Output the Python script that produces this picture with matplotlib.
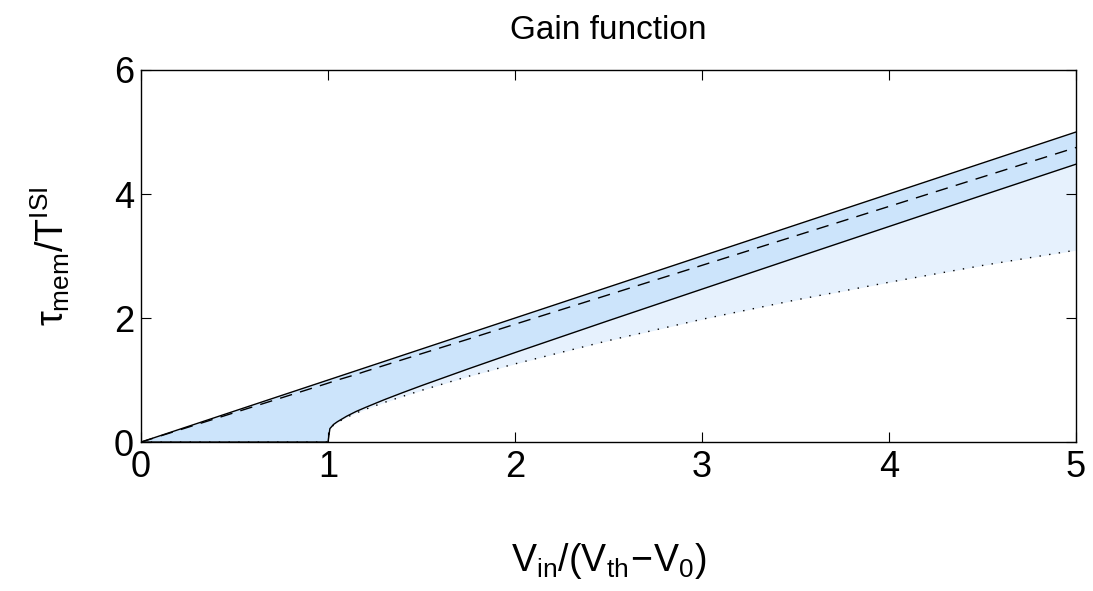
import matplotlib
matplotlib.use('Agg')
import matplotlib.pyplot as plt
import numpy as np

plt.rcParams['font.family'] = ['Liberation Sans', 'DejaVu Sans']
plt.rcParams['mathtext.fontset'] = 'custom'
plt.rcParams['mathtext.rm'] = 'Liberation Sans'
plt.rcParams['mathtext.it'] = 'Liberation Sans'

# input drive V_in/(V_th - V_0)
v_in = [0.0, 0.5, 0.99, 1.0, 1.01, 1.03, 1.05, 1.1, 1.15, 1.2, 1.3, 1.4, 1.5, 1.75,
        2.0, 2.5, 3.0, 3.5, 4.0, 4.5, 5.0]
# upper bound (solid, straight)
rate_upper = [0.0, 0.5, 0.99, 1.0, 1.01, 1.03, 1.05, 1.1, 1.15, 1.2, 1.3, 1.4, 1.5, 1.75,
              2.0, 2.5, 3.0, 3.5, 4.0, 4.5, 5.0]
# dashed estimate
rate_dashed = [0.0, 0.475, 0.94, 0.95, 0.96, 0.98, 1.0, 1.045, 1.09, 1.14, 1.235, 1.33, 1.425, 1.66,
               1.9, 2.375, 2.85, 3.325, 3.8, 4.275, 4.75]
# lower solid curve
rate_lower = [0.0, 0.0, 0.0, 0.0, 0.217, 0.285, 0.328, 0.417, 0.493, 0.558, 0.682, 0.798, 0.910, 1.18,
              1.443, 1.958, 2.466, 2.972, 3.476, 3.980, 4.481]
# dotted curve
rate_dotted = [0.0, 0.0, 0.0, 0.0, 0.212, 0.277, 0.318, 0.400, 0.469, 0.529, 0.638, 0.738, 0.834, 1.06,
               1.261, 1.637, 1.980, 2.291, 2.577, 2.848, 3.095]

fig = plt.figure(figsize=(10.93, 5.91), dpi=100)
ax = fig.add_axes([0.129, 0.252, 0.8555, 0.6296])

ax.fill_between(v_in, rate_lower, rate_upper, color='#cce4fb', lw=0)
ax.fill_between(v_in, rate_dotted, rate_lower, color='#e6f1fd', lw=0)

ax.plot(v_in, rate_upper, color='k', lw=1)
ax.plot(v_in, rate_dashed, color='k', lw=1, linestyle=(0, (9, 6)))
ax.plot(v_in, rate_lower, color='k', lw=1)
ax.plot(v_in, rate_dotted, color='k', lw=1, linestyle=(0, (1, 6)))

ax.set_xlim(0, 5)
ax.set_ylim(0, 6)
ax.set_xticks([0, 1, 2, 3, 4, 5])
ax.set_yticks([0, 2, 4, 6])
ax.tick_params(direction='in', top=True, right=True, labelsize=26, length=7)
ax.tick_params(axis='x', pad=6)
ax.tick_params(axis='y', pad=5)
for s in ax.spines.values():
    s.set_linewidth(1)

ax.set_xlabel(r'$\rm V_{in}/(V_{th}\!-\!V_0)$', fontsize=27, labelpad=40)
ax.set_ylabel(r'$\tau_{\rm mem}/\rm T^{ISI}$', fontsize=27, labelpad=30)
ax.set_title('Gain function', fontsize=24, pad=22)

fig.savefig('out.png', dpi=100)
